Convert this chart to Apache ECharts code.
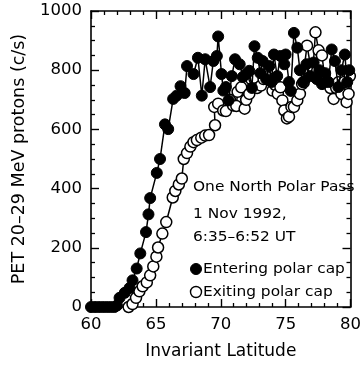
<!DOCTYPE html>
<html>
<head>
<meta charset="utf-8">
<script src="https://cdn.jsdelivr.net/npm/echarts@6/dist/echarts.min.js"></script>
<style>
  html, body { margin: 0; padding: 0; background: #fff; }
  #chart { width: 364px; height: 365px; }
</style>
</head>
<body>
<div id="chart"></div>
<script>
// Invariant latitude (deg) and PET 20-29 MeV proton rates (c/s)
const enteringLat = [60.0, 60.3, 60.6, 60.9, 61.2, 61.5, 61.8, 62.0, 62.2, 62.6, 62.97, 63.2, 63.52, 63.8,
  64.24, 64.43, 64.56, 65.07, 65.32, 65.7, 65.95, 66.33, 66.6, 66.9, 67.22, 67.4, 67.9, 68.24, 68.54,
  68.8, 69.18, 69.43, 69.7, 69.8, 70.06, 70.2, 70.4, 70.6, 70.85, 71.1, 71.46, 71.7, 71.96, 72.2,
  72.4, 72.6, 72.85, 73.05, 73.23, 73.5, 73.74, 73.9, 74.1, 74.35, 74.6, 74.9, 75.0, 75.26, 75.4,
  75.64, 75.9, 76.1, 76.35, 76.6, 76.9, 77.16, 77.4, 77.6, 77.8, 78.05, 78.3, 78.55, 78.8, 79.06,
  79.3, 79.56, 79.75, 79.9];
const enteringRate = [0, 0, 0, 0, 0, 0, 0, 5, 31, 48, 64, 90, 130, 181,
  253, 313, 368, 453, 500, 617, 601, 703, 714, 746, 723, 814, 787, 842, 714,
  837, 743, 831, 848, 914, 787, 731, 743, 698, 780, 837, 820, 777, 787, 798,
  740, 881, 842, 790, 831, 770, 814, 760, 853, 780, 848, 820, 853, 760, 730,
  926, 876, 800, 760, 820, 780, 826, 770, 800, 753, 790, 760, 870, 831, 743,
  800, 853, 760, 800];

const exitingLat = [62.9, 63.2, 63.47, 63.73, 63.98, 64.3, 64.56, 64.8, 65.04, 65.17, 65.5, 65.8, 66.3,
  66.5, 66.77, 67.0, 67.15, 67.4, 67.66, 67.9, 68.16, 68.5, 68.8, 69.1, 69.56, 69.5, 69.8, 70.19,
  70.4, 70.7, 70.95, 71.2, 71.3, 71.58, 71.84, 71.96, 72.2, 72.34, 72.6, 72.8, 73.1, 73.3, 73.6,
  73.99, 74.2, 74.4, 74.6, 74.75, 74.9, 75.1, 75.26, 75.45, 75.64, 75.9, 76.1, 76.27, 76.4, 76.65,
  76.9, 77.1, 77.3, 77.54, 77.8, 78.0, 78.2, 78.45, 78.7, 78.9, 79.06, 79.3, 79.5, 79.7, 79.85, 79.95];
const exitingRate = [0, 10, 31, 53, 70, 83, 107, 137, 170, 201, 248, 287, 370,
  392, 414, 434, 500, 520, 542, 557, 564, 572, 579, 581, 614, 676, 687, 664,
  662, 700, 681, 679, 727, 742, 670, 700, 720, 770, 770, 740, 748, 770, 776,
  731, 750, 720, 742, 698, 664, 637, 643, 676, 676, 698, 720, 753, 759, 883,
  820, 800, 928, 867, 850, 781, 760, 740, 703, 740, 759, 720, 760, 692, 720, 780];

const xTicks = { min: 60, max: 80, interval: 5 };
const yTicks = { min: 0, max: 1000, interval: 200 };

const titleX = 'Invariant Latitude';
const titleY = 'PET 20\u201329 MeV protons (c/s)';
const noteLines = ['One North Polar Pass', '1 Nov 1992,', '6:35\u20136:52 UT'];
const legendNames = ['Entering polar cap', 'Exiting polar cap'];

const FONT = 'DejaVu Sans';

const pairs = (xs, ys) => xs.map((x, i) => [x, ys[i]]);

function boxAxis(extra, minorSplit) {
  return Object.assign({
    type: 'value',
    axisLine: { show: true, onZero: false, lineStyle: { color: '#000', width: 1.6 } },
    axisTick: { show: true, inside: true, length: 8, lineStyle: { color: '#000', width: 1.4 } },
    minorTick: { show: true, splitNumber: minorSplit, length: 4, lineStyle: { color: '#000', width: 1.3 } },
    splitLine: { show: false },
    minorSplitLine: { show: false }
  }, extra);
}

const tickLabel = { color: '#000', fontFamily: FONT, fontSize: 16.5, margin: 9, formatter: v => String(v) };

const chart = echarts.init(document.getElementById('chart'), null, { renderer: 'canvas' });

// annotation text, vertically centred on y and slightly widened
const note = (text, x, y, size) => ({
  type: 'text', x: x, y: y, scaleX: 1.1, z: 10,
  style: { text: text, font: size + 'px "' + FONT + '"', fill: '#000', verticalAlign: 'middle', align: 'left' }
});

chart.setOption({
  backgroundColor: '#fff',
  animation: false,
  grid: { left: 91, right: 10, top: 11, bottom: 54 },
  xAxis: [
    boxAxis({
      position: 'bottom', min: xTicks.min, max: xTicks.max, interval: xTicks.interval,
      axisLabel: tickLabel,
      name: titleX, nameLocation: 'middle', nameGap: 36,
      nameTextStyle: { color: '#000', fontFamily: FONT, fontSize: 17 }
    }, 5),
    boxAxis({
      position: 'top', min: xTicks.min, max: xTicks.max, interval: xTicks.interval,
      axisLabel: { show: false }
    }, 5)
  ],
  yAxis: [
    boxAxis({
      position: 'left', min: yTicks.min, max: yTicks.max, interval: yTicks.interval,
      axisLabel: tickLabel,
      name: titleY, nameLocation: 'middle', nameGap: 63,
      nameTextStyle: { color: '#000', fontFamily: FONT, fontSize: 17.5 }
    }, 4),
    boxAxis({
      position: 'right', min: yTicks.min, max: yTicks.max, interval: yTicks.interval,
      axisLabel: { show: false }
    }, 4)
  ],
  series: [
    {
      name: legendNames[1], type: 'line', data: pairs(exitingLat, exitingRate),
      symbol: 'circle', symbolSize: 11, showAllSymbol: true,
      lineStyle: { color: '#000', width: 1.5 },
      itemStyle: { color: '#fff', borderColor: '#000', borderWidth: 1.5 },
      z: 2
    },
    {
      name: legendNames[0], type: 'line', data: pairs(enteringLat, enteringRate),
      symbol: 'circle', symbolSize: 11, showAllSymbol: true,
      lineStyle: { color: '#000', width: 1.5 },
      itemStyle: { color: '#000', borderColor: '#000', borderWidth: 1 },
      z: 3
    }
  ],
  graphic: [
    note(noteLines[0], 193, 187, 14),
    note(noteLines[1], 193, 214.5, 14),
    note(noteLines[2], 193, 237, 14),
    { type: 'circle', shape: { cx: 196, cy: 269, r: 5.5 }, style: { fill: '#000', stroke: '#000' } },
    note(legendNames[0], 203, 269, 14),
    { type: 'circle', shape: { cx: 196, cy: 292, r: 5.5 }, style: { fill: '#fff', stroke: '#000', lineWidth: 1.4 } },
    note(legendNames[1], 203, 292, 14)
  ]
});
</script>
</body>
</html>
